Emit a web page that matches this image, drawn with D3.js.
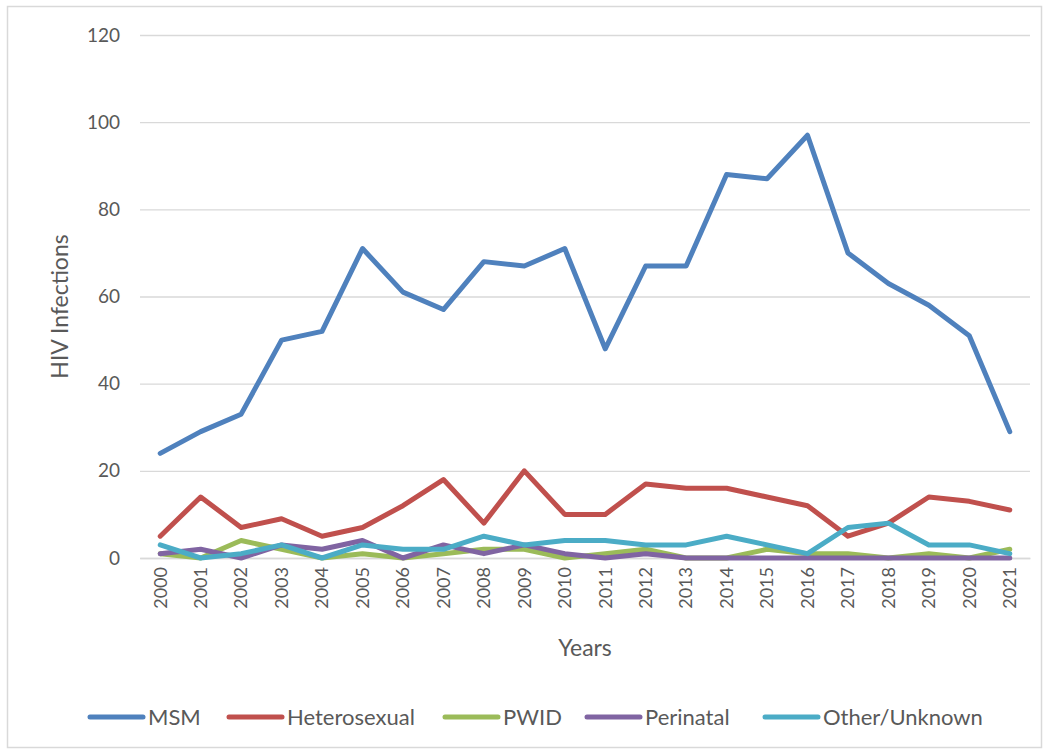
<!DOCTYPE html>
<html>
<head>
<meta charset="utf-8">
<script src="https://cdn.jsdelivr.net/npm/d3@7"></script>
<style>
  body { margin: 0; background: #fff; }
  text { font-family: Lato, "Open Sans", sans-serif; fill: #595959; }
</style>
</head>
<body>
<svg width="1049" height="753"></svg>
<script>
var width = 1049, height = 753;
var margin = {top: 35, right: 19, bottom: 195, left: 140};

var years = d3.range(2000, 2022).map(String);
var seriesNames = ["MSM", "Heterosexual", "PWID", "Perinatal", "Other/Unknown"];
var colors = ["#4F81BD", "#C0504D", "#9BBB59", "#8064A2", "#4BACC6"];
var yTicks = [0, 20, 40, 60, 80, 100, 120];

var msm = [24, 29, 33, 50, 52, 71, 61, 57, 68, 67, 71, 48, 67, 67, 88, 87, 97, 70, 63, 58, 51, 29];
var hetero = [5, 14, 7, 9, 5, 7, 12, 18, 8, 20, 10, 10, 17, 16, 16, 14, 12, 5, 8, 14, 13, 11];
var pwid = [1, 0, 4, 2, 0, 1, 0, 1, 2, 2, 0, 1, 2, 0, 0, 2, 1, 1, 0, 1, 0, 2];
var perinatal = [1, 2, 0, 3, 2, 4, 0, 3, 1, 3, 1, 0, 1, 0, 0, 0, 0, 0, 0, 0, 0, 0];
var other = [3, 0, 1, 3, 0, 3, 2, 2, 5, 3, 4, 4, 3, 3, 5, 3, 1, 7, 8, 3, 3, 1];
var allSeries = [msm, hetero, pwid, perinatal, other];

var svg = d3.select("svg");

// outer frame
svg.append("rect")
    .attr("x", 7.5).attr("y", 6.5)
    .attr("width", width - 15).attr("height", height - 12)
    .style("fill", "#fff")
    .style("stroke", "#D9D9D9")
    .style("stroke-width", 1.5);

var plotW = width - margin.left - margin.right;
var plotH = 558 - margin.top;

var x = d3.scaleBand().domain(years).range([0, plotW]);
var y = d3.scaleLinear().domain([0, 120]).range([plotH, 0]);

var g = svg.append("g").attr("transform", "translate(" + margin.left + "," + margin.top + ")");

// horizontal grid + y labels
var gy = g.append("g")
    .call(d3.axisLeft(y).tickValues(yTicks).tickSize(-plotW).tickPadding(20));
gy.select(".domain").remove();
gy.selectAll(".tick line").style("stroke", "#D9D9D9").style("stroke-width", 1.3);
gy.selectAll(".tick text").style("font-size", "19px").style("fill", "#595959");

// x axis
var gx = g.append("g")
    .attr("transform", "translate(0," + plotH + ")")
    .call(d3.axisBottom(x).tickSize(0));
gx.select(".domain").style("stroke", "#D9D9D9").style("stroke-width", 1.3);
gx.selectAll(".tick text")
    .style("font-size", "18px")
    .style("fill", "#595959")
    .attr("transform", "rotate(-90)")
    .attr("text-anchor", "end")
    .attr("x", -9)
    .attr("y", 0)
    .attr("dy", "0.35em");

// lines
var line = d3.line()
    .x(function(d, i) { return x(years[i]) + x.bandwidth() / 2; })
    .y(function(d) { return y(d); });

allSeries.forEach(function(s, i) {
    g.append("path")
        .datum(s)
        .attr("d", line)
        .style("fill", "none")
        .style("stroke", colors[i])
        .style("stroke-width", 5)
        .style("stroke-linejoin", "round")
        .style("stroke-linecap", "round");
});

// axis titles
svg.append("text")
    .attr("transform", "translate(68," + (margin.top + plotH / 2 + 10) + ") rotate(-90)")
    .attr("text-anchor", "middle")
    .style("font-size", "23px")
    .text("HIV Infections");

svg.append("text")
    .attr("x", 585).attr("y", 656)
    .attr("text-anchor", "middle")
    .style("font-size", "23px")
    .text("Years");

// legend
var legendX = [88, 227, 443, 585, 763];
var legend = svg.append("g");
seriesNames.forEach(function(name, i) {
    legend.append("line")
        .attr("x1", legendX[i] + 2).attr("x2", legendX[i] + 55)
        .attr("y1", 717).attr("y2", 717)
        .style("stroke", colors[i])
        .style("stroke-width", 5)
        .style("stroke-linecap", "round");
    legend.append("text")
        .attr("x", legendX[i] + 60).attr("y", 717)
        .attr("dy", "0.35em")
        .style("font-size", "22px")
        .text(name);
});
</script>
</body>
</html>
